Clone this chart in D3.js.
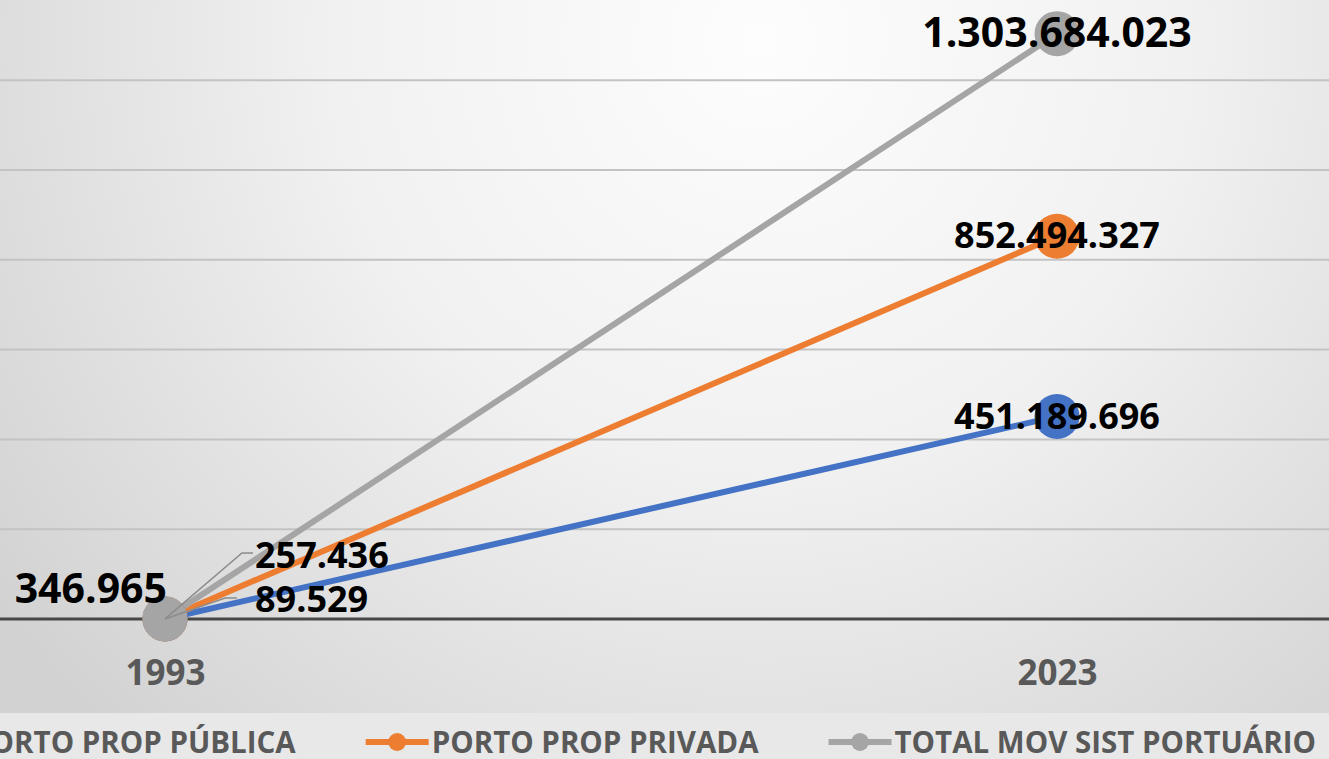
<!DOCTYPE html>
<html>
<head>
<meta charset="utf-8">
<script src="https://cdn.jsdelivr.net/npm/d3@7"></script>
<style>
  html, body { margin: 0; padding: 0; overflow: hidden; background: #e8e8e8; }
  text { font-family: "Open Sans", "DejaVu Sans", sans-serif; font-weight: bold; }
</style>
</head>
<body>
<svg id="chart" width="1329" height="759"></svg>
<script>
// ---- dados ----
const years = ['1993', '2023'];
const seriesNames = ['PORTO PROP PÚBLICA', 'PORTO PROP PRIVADA', 'TOTAL MOV SIST PORTUÁRIO'];
const publica = [89529, 451189696];
const privada = [257436, 852494327];
const total = [346965, 1303684023];
const yTicks = [0, 200000000, 400000000, 600000000, 800000000, 1000000000, 1200000000];

// ---- estilo ----
const colors = ['#4472C4', '#ED7D31', '#A5A5A5'];
const labelSize = [36, 36, 41];
// deslocamento dos rótulos [dx, dy(baseline), anchor] por ponto
const labelPos = [
  [[90, -7, 'start'], [0, 13, 'middle']],
  [[90, -51, 'start'], [0, 12, 'middle']],
  [[2, -16, 'end'], [0, 13.6, 'middle']]
];
// linhas de chamada (1993)
const leaders = [
  [[0, 0], [60, -21], [72, -21]],
  [[0, 0], [77, -66], [88, -66]],
  null
];

const W = 1329, H = 759;
const plot = { left: -281, right: 1503, top: -9.6, bottom: 619 };

const svg = d3.select('#chart');
const fmt = d3.formatLocale({ decimal: ',', thousands: '.', grouping: [3], currency: ['R$', ''] }).format(',d');

const x = d3.scalePoint().domain(years).range([plot.left, plot.right]).padding(0.5);
const y = d3.scaleLinear().domain([0, 1400000000]).range([plot.bottom, plot.top]);

// fundo
const defs = svg.append('defs');
const grad = defs.append('radialGradient')
  .attr('id', 'bg').attr('gradientUnits', 'userSpaceOnUse')
  .attr('cx', 760).attr('cy', 40).attr('r', 950);
grad.append('stop').attr('offset', '0%').attr('stop-color', '#fdfdfd');
grad.append('stop').attr('offset', '45%').attr('stop-color', '#f1f1f1');
grad.append('stop').attr('offset', '100%').attr('stop-color', '#d2d2d2');

svg.append('rect').attr('width', W).attr('height', H).attr('fill', '#e8e8e8');
svg.append('rect').attr('width', W).attr('height', 713).attr('fill', 'url(#bg)');

// grade
svg.append('g')
  .selectAll('line')
  .data(yTicks.filter(d => d > 0))
  .join('line')
  .attr('x1', 0).attr('x2', W)
  .attr('y1', d => y(d)).attr('y2', d => y(d))
  .attr('stroke', '#c3c3c3')
  .attr('stroke-width', 2);

// eixo x
const xAxis = svg.append('g')
  .attr('transform', `translate(0,${y(0)})`)
  .call(d3.axisBottom(x).tickSize(0).tickPadding(0));
xAxis.select('.domain').remove();
xAxis.append('line')
  .attr('x1', 0).attr('x2', W)
  .attr('stroke', '#474747').attr('stroke-width', 3);
xAxis.selectAll('.tick text')
  .attr('dy', null)
  .attr('y', 66)
  .attr('fill', '#595959')
  .style('font-size', '35px');

const series = [publica, privada, total].map((vals, i) => ({
  name: seriesNames[i],
  color: colors[i],
  i,
  points: vals.map((v, j) => ({ year: years[j], value: v, j }))
}));

const line = d3.line().x(d => x(d.year)).y(d => y(d.value));

// linhas
svg.append('g')
  .selectAll('path')
  .data(series)
  .join('path')
  .attr('d', d => line(d.points))
  .attr('fill', 'none')
  .attr('stroke', d => d.color)
  .attr('stroke-width', 6)
  .attr('stroke-linecap', 'round');

// marcadores
svg.append('g')
  .selectAll('g')
  .data(series)
  .join('g')
  .selectAll('circle')
  .data(d => d.points.map(p => ({ ...p, color: d.color })))
  .join('circle')
  .attr('cx', d => x(d.year))
  .attr('cy', d => y(d.value))
  .attr('r', 22.5)
  .attr('fill', d => d.color);

// linhas de chamada
svg.append('g')
  .selectAll('polyline')
  .data(series.filter(s => leaders[s.i]))
  .join('polyline')
  .attr('points', s => {
    const p = s.points[0];
    return leaders[s.i].map(([dx, dy]) => `${x(p.year) + dx},${y(p.value) + dy}`).join(' ');
  })
  .attr('fill', 'none')
  .attr('stroke', '#8c8c8c')
  .attr('stroke-width', 1.5);

// rótulos de dados
svg.append('g')
  .selectAll('g')
  .data(series)
  .join('g')
  .selectAll('text')
  .data(s => s.points.map(p => ({ ...p, i: s.i })))
  .join('text')
  .attr('x', d => x(d.year) + labelPos[d.i][d.j][0])
  .attr('y', d => y(d.value) + labelPos[d.i][d.j][1])
  .attr('text-anchor', d => labelPos[d.i][d.j][2])
  .attr('fill', '#000')
  .style('font-size', d => labelSize[d.i] + 'px')
  .text(d => fmt(d.value));

// legenda
const legY = 742, markLen = 63, gap = 70, txtOff = 3;
const leg = svg.append('g');
const items = leg.selectAll('g')
  .data(series)
  .join('g');
items.append('line')
  .attr('x1', 0).attr('x2', markLen)
  .attr('y1', legY).attr('y2', legY)
  .attr('stroke', d => d.color).attr('stroke-width', 6);
items.append('circle')
  .attr('cx', markLen / 2).attr('cy', legY).attr('r', 9)
  .attr('fill', d => d.color);
items.append('text')
  .attr('x', markLen + txtOff)
  .attr('y', legY + 11)
  .attr('fill', '#595959')
  .style('font-size', '29.5px')
  .text(d => d.name);

const widths = [];
items.each(function () {
  widths.push(markLen + txtOff + d3.select(this).select('text').node().getComputedTextLength());
});
const totalW = d3.sum(widths) + gap * (widths.length - 1);
let cursor = (plot.left + plot.right) / 2 - totalW / 2;
items.attr('transform', (d, k) => {
  const t = `translate(${cursor},0)`;
  cursor += widths[k] + gap;
  return t;
});
</script>
</body>
</html>
